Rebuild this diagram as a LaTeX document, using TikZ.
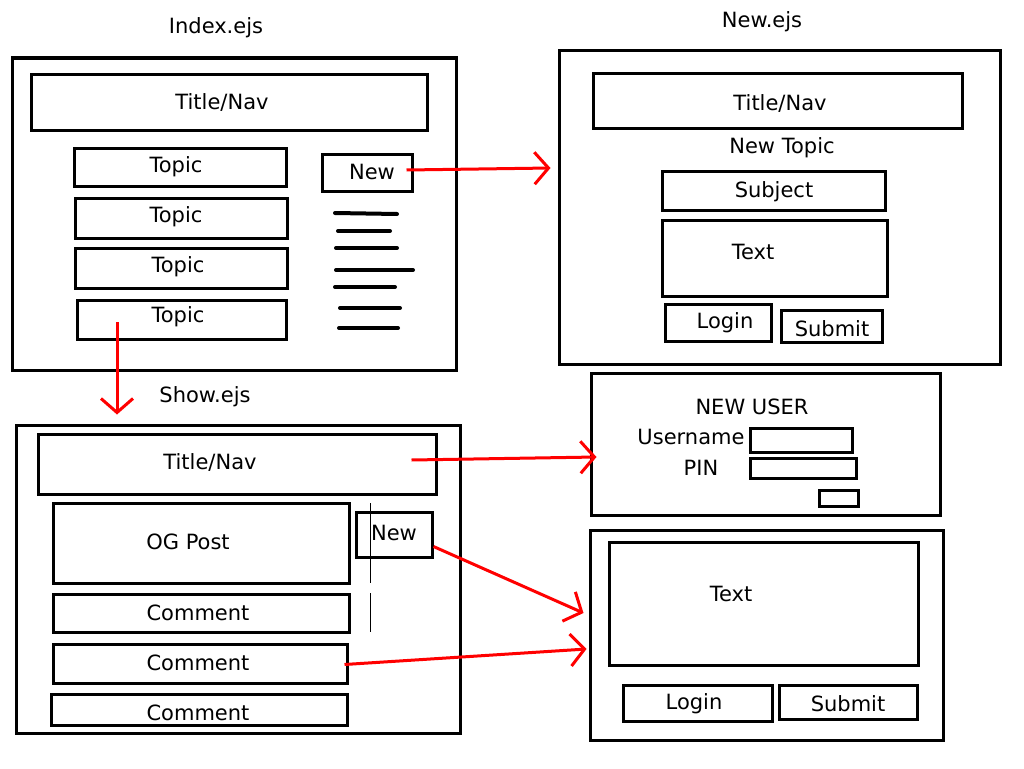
\documentclass[tikz,border=0pt]{standalone}
\usepackage{fontspec}
\setmainfont{DejaVu Sans}
\usetikzlibrary{arrows.meta}

\begin{document}
\begin{tikzpicture}[x=1pt, y=-1pt,
	every node/.style={font=\fontsize{21}{24}\selectfont},
	box/.style={draw, line width=3pt, inner sep=0pt},
	link/.style={draw=red, line width=3pt, -{Straight Barb[length=14pt, width=32pt]}}]
	\useasboundingbox (0,0) rectangle (1024,768);

	% index page
	\node (indexname) at (216,28) {Index.ejs};
	\node [box, minimum width=444, minimum height=312] (indexpage) at (234,214) {};
	\node [box, minimum width=396, minimum height=56] (indextitle) at (229,102) {};
	\node (indextitletext) at (222,102) {Title/Nav};
	\node [box, minimum width=212, minimum height=38] (topicA) at (180,167) {};
	\node [box, minimum width=212, minimum height=40] (topicB) at (181,218) {};
	\node [box, minimum width=212, minimum height=40] (topicC) at (181,268) {};
	\node [box, minimum width=209, minimum height=39] (topicD) at (181.5,319.5) {};
	\node (topicAtext) at (176,167) {Topic};
	\node (topicBtext) at (176,217) {Topic};
	\node (topicCtext) at (178,267) {Topic};
	\node (topicDtext) at (178,317) {Topic};
	\node [box, minimum width=90, minimum height=37] (newA) at (367,172.5) {};
	\node (newAtext) at (372,172) {New};
	\draw [line width=4pt, line cap=round] (335,213) -- (397,214);
	\draw [line width=4pt, line cap=round] (338,231) -- (390,231);
	\draw [line width=4pt, line cap=round] (336,248) -- (397,248);
	\draw [line width=4pt, line cap=round] (336,270) -- (413,270);
	\draw [line width=4pt, line cap=round] (335,287) -- (395,287);
	\draw [line width=4pt, line cap=round] (340,308) -- (400,308);
	\draw [line width=4pt, line cap=round] (339,328) -- (398,328);

	% new topic page
	\node (newname) at (762,22) {New.ejs};
	\node [box, minimum width=441, minimum height=313] (newpage) at (779.5,207.5) {};
	\node [box, minimum width=369, minimum height=55] (newtitle) at (777.5,100.5) {};
	\node (newtitletext) at (780,103) {Title/Nav};
	\node (newtopic) at (782,148) {New Topic};
	\node [box, minimum width=223, minimum height=39] (subject) at (773.5,190.5) {};
	\node (subjecttext) at (774,192) {Subject};
	\node [box, minimum width=225, minimum height=76] (textA) at (774.5,258) {};
	\node (textAtext) at (753,252) {Text};
	\node [box, minimum width=106, minimum height=37] (loginA) at (718,322.5) {};
	\node (loginAtext) at (725,323) {Login};
	\node [box, minimum width=101, minimum height=32] (submitA) at (831.5,326) {};
	\node (submitAtext) at (832,329) {Submit};

	% show page
	\node (showname) at (205,397) {Show.ejs};
	\node [box, minimum width=444, minimum height=308] (showpage) at (238,579) {};
	\node [box, minimum width=398, minimum height=60] (showtitle) at (237,464) {};
	\node (showtitletext) at (210,462) {Title/Nav};
	\node [box, minimum width=296, minimum height=80] (ogpost) at (201,543) {};
	\node (ogposttext) at (188,542) {OG Post};
	\draw [line width=1pt] (370,503) -- (370,583);
	\draw [line width=1pt] (370,593) -- (370,632);
	\node [box, minimum width=76, minimum height=45] (shownew) at (394,534.5) {};
	\node (shownewtext) at (394,533) {New};
	\node [box, minimum width=296, minimum height=38] (commentA) at (201,613) {};
	\node [box, minimum width=294, minimum height=39] (commentB) at (200,663.5) {};
	\node [box, minimum width=296, minimum height=31] (commentC) at (199,709.5) {};
	\node (commentAtext) at (198,613) {Comment};
	\node (commentBtext) at (198,663) {Comment};
	\node (commentCtext) at (198,713) {Comment};

	% new user form
	\node [box, minimum width=349, minimum height=142] (userpage) at (765.5,444) {};
	\node (usertitle) at (752,407) {NEW USER};
	\node (usernametext) at (691,437) {Username};
	\node (pintext) at (701,468) {PIN};
	\node [box, minimum width=102, minimum height=24] (username) at (801,440) {};
	\node [box, minimum width=106, minimum height=20] (pin) at (803,468) {};
	\node [box, minimum width=39, minimum height=16] (userok) at (838.5,498) {};

	% comment form
	\node [box, minimum width=353, minimum height=210] (postpage) at (766.5,635) {};
	\node [box, minimum width=309, minimum height=123] (textB) at (763.5,603.5) {};
	\node (textBtext) at (731,594) {Text};
	\node [box, minimum width=149, minimum height=36] (loginB) at (697.5,703) {};
	\node (loginBtext) at (694,704) {Login};
	\node [box, minimum width=138, minimum height=34] (submitB) at (848,702) {};
	\node (submitBtext) at (848,704) {Submit};

	% links
	\draw [link] ([shift={(-7pt,2.5pt)}]newA.east) -- ([shift={(-7pt,39.5pt)}]newpage.west);
	\draw [link] ([shift={(-64.5pt,-2.5pt)}]topicD.center) -- ([shift={(-121pt,9pt)}]showpage.north);
	\draw [link] ([shift={(-26pt,4pt)}]showtitle.east) -- ([shift={(7pt,-13pt)}]userpage.west);
	\draw [link] ([yshift=-12pt]shownew.east) -- ([shift={(-5pt,22pt)}]postpage.west);
	\draw [link] ([shift={(-4pt,-1pt)}]commentB.east) -- ([shift={(-2pt,-14pt)}]postpage.west);
\end{tikzpicture}
\end{document}
